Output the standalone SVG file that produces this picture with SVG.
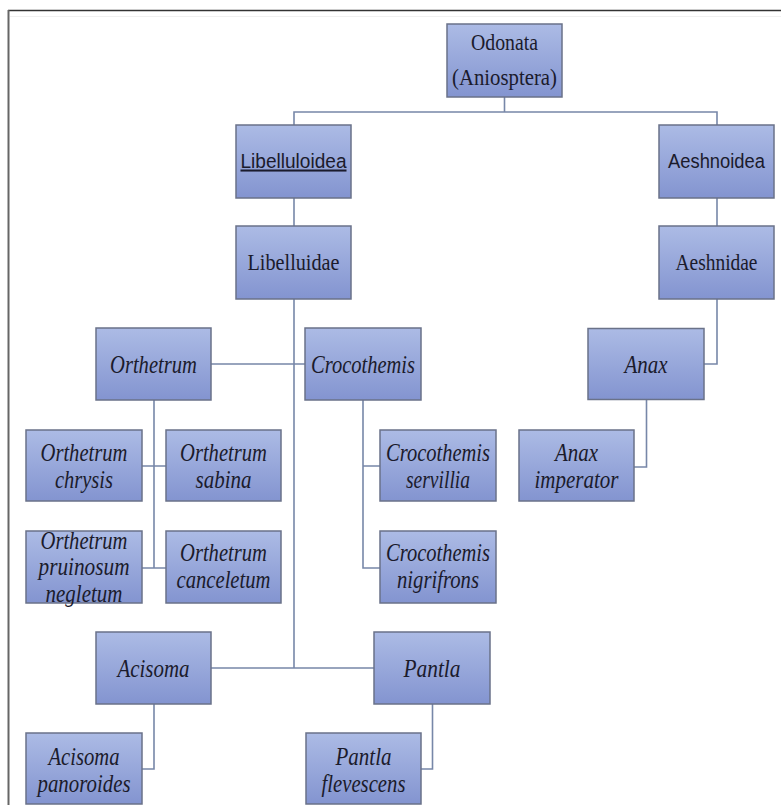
<svg xmlns="http://www.w3.org/2000/svg" width="781" height="805" viewBox="0 0 781 805">
<defs>
<linearGradient id="g" x1="0" y1="0" x2="0" y2="1">
<stop offset="0" stop-color="#acbbe5"/>
<stop offset="1" stop-color="#8394d0"/>
</linearGradient>
<style>
.b{fill:url(#g);stroke:#6a7289;stroke-width:1.5}
.c{fill:none;stroke:#7787a8;stroke-width:1.6}
.s{font-family:"Liberation Serif","Times New Roman",serif;font-size:22.5px;fill:#1b1b2c;text-anchor:middle}
.a{font-family:"Liberation Sans",Arial,sans-serif;font-size:20.5px;fill:#1b1b2c;text-anchor:middle}
.i{font-family:"Liberation Serif","Times New Roman",serif;font-style:italic;font-size:25.5px;fill:#1b1b2c;text-anchor:middle}
</style>
</defs>
<rect width="781" height="805" fill="#ffffff"/>
<g id="frame">
<line x1="8" y1="10.5" x2="781" y2="10.5" stroke="#333" stroke-width="1.6"/>
<line x1="8.5" y1="10" x2="8.5" y2="805" stroke="#666" stroke-width="2"/>
<line x1="10" y1="16.5" x2="781" y2="16.5" stroke="#f0f0f0" stroke-width="1"/>
</g>
<g id="connectors">
<path class="c" d="M504.5 97V112M294 125V112H717V125"/>
<path class="c" d="M294 198V226M717 198V226"/>
<path class="c" d="M294 299V668M211 364H305M211 668H374"/>
<path class="c" d="M154 400V568M142 466H166M142 568H166"/>
<path class="c" d="M363 400V568H380M363 466H380"/>
<path class="c" d="M154 704V769H142M432.5 704V769H421"/>
<path class="c" d="M717 299V364H704M646.5 399.5V467H634"/>
</g>
<g id="odonata"><rect class="b" x="447" y="24" width="115" height="73"/>
<text class="s" x="504.5" y="50" textLength="67" lengthAdjust="spacingAndGlyphs">Odonata</text>
<text class="s" x="504.5" y="85" textLength="105" lengthAdjust="spacingAndGlyphs">(Aniosptera)</text></g>
<g id="libelluloidea"><rect class="b" x="236" y="125" width="115" height="73"/>
<text class="a" x="293.5" y="167.5" textLength="106" lengthAdjust="spacingAndGlyphs" text-decoration="underline">Libelluloidea</text></g>
<g id="aeshnoidea"><rect class="b" x="659" y="125" width="115" height="73"/>
<text class="a" x="716.5" y="167.5" textLength="97" lengthAdjust="spacingAndGlyphs">Aeshnoidea</text></g>
<g id="libelluidae"><rect class="b" x="236" y="226" width="115" height="73"/>
<text class="s" x="293.5" y="270" textLength="92" lengthAdjust="spacingAndGlyphs">Libelluidae</text></g>
<g id="aeshnidae"><rect class="b" x="659" y="226" width="115" height="73"/>
<text class="s" x="716.5" y="270" textLength="82" lengthAdjust="spacingAndGlyphs">Aeshnidae</text></g>
<g id="orthetrum"><rect class="b" x="96" y="328" width="115" height="72"/>
<text class="i" x="153.5" y="372.5" textLength="87" lengthAdjust="spacingAndGlyphs">Orthetrum</text></g>
<g id="crocothemis"><rect class="b" x="305" y="328" width="116" height="72"/>
<text class="i" x="363" y="372.5" textLength="104" lengthAdjust="spacingAndGlyphs">Crocothemis</text></g>
<g id="anax"><rect class="b" x="588" y="328.5" width="116" height="71"/>
<text class="i" x="646" y="372.5" textLength="43" lengthAdjust="spacingAndGlyphs">Anax</text></g>
<g id="orthetrum-chrysis"><rect class="b" x="26" y="430" width="116" height="71"/>
<text class="i" x="84" y="461" textLength="87" lengthAdjust="spacingAndGlyphs">Orthetrum</text>
<text class="i" x="84" y="488" textLength="58" lengthAdjust="spacingAndGlyphs">chrysis</text></g>
<g id="orthetrum-sabina"><rect class="b" x="166" y="430" width="115" height="71"/>
<text class="i" x="223.5" y="461" textLength="87" lengthAdjust="spacingAndGlyphs">Orthetrum</text>
<text class="i" x="223.5" y="488" textLength="56" lengthAdjust="spacingAndGlyphs">sabina</text></g>
<g id="crocothemis-servillia"><rect class="b" x="380" y="430" width="116" height="71"/>
<text class="i" x="438" y="461" textLength="104" lengthAdjust="spacingAndGlyphs">Crocothemis</text>
<text class="i" x="438" y="488" textLength="64" lengthAdjust="spacingAndGlyphs">servillia</text></g>
<g id="anax-imperator"><rect class="b" x="519" y="430" width="115" height="71"/>
<text class="i" x="576.5" y="461" textLength="43" lengthAdjust="spacingAndGlyphs">Anax</text>
<text class="i" x="576.5" y="488" textLength="84" lengthAdjust="spacingAndGlyphs">imperator</text></g>
<g id="orthetrum-pruinosum-negletum"><rect class="b" x="26" y="531" width="116" height="72"/>
<text class="i" x="84" y="548.5" textLength="87" lengthAdjust="spacingAndGlyphs">Orthetrum</text>
<text class="i" x="84" y="575" textLength="91" lengthAdjust="spacingAndGlyphs">pruinosum</text>
<text class="i" x="84" y="601.5" textLength="77" lengthAdjust="spacingAndGlyphs">negletum</text></g>
<g id="orthetrum-canceletum"><rect class="b" x="166" y="531" width="115" height="72"/>
<text class="i" x="223.5" y="561" textLength="87" lengthAdjust="spacingAndGlyphs">Orthetrum</text>
<text class="i" x="223.5" y="588" textLength="94" lengthAdjust="spacingAndGlyphs">canceletum</text></g>
<g id="crocothemis-nigrifrons"><rect class="b" x="380" y="531" width="116" height="72"/>
<text class="i" x="438" y="561" textLength="104" lengthAdjust="spacingAndGlyphs">Crocothemis</text>
<text class="i" x="438" y="588" textLength="82" lengthAdjust="spacingAndGlyphs">nigrifrons</text></g>
<g id="acisoma"><rect class="b" x="96" y="632" width="115" height="72"/>
<text class="i" x="153.5" y="676.5" textLength="72" lengthAdjust="spacingAndGlyphs">Acisoma</text></g>
<g id="pantla"><rect class="b" x="374" y="632" width="116" height="72"/>
<text class="i" x="432" y="676.5" textLength="57" lengthAdjust="spacingAndGlyphs">Pantla</text></g>
<g id="acisoma-panoroides"><rect class="b" x="26" y="733" width="116" height="71"/>
<text class="i" x="84" y="765" textLength="71" lengthAdjust="spacingAndGlyphs">Acisoma</text>
<text class="i" x="84" y="792" textLength="93" lengthAdjust="spacingAndGlyphs">panoroides</text></g>
<g id="pantla-flevescens"><rect class="b" x="306" y="733" width="115" height="71"/>
<text class="i" x="363.5" y="765" textLength="56" lengthAdjust="spacingAndGlyphs">Pantla</text>
<text class="i" x="363.5" y="792" textLength="84" lengthAdjust="spacingAndGlyphs">flevescens</text></g>
</svg>
